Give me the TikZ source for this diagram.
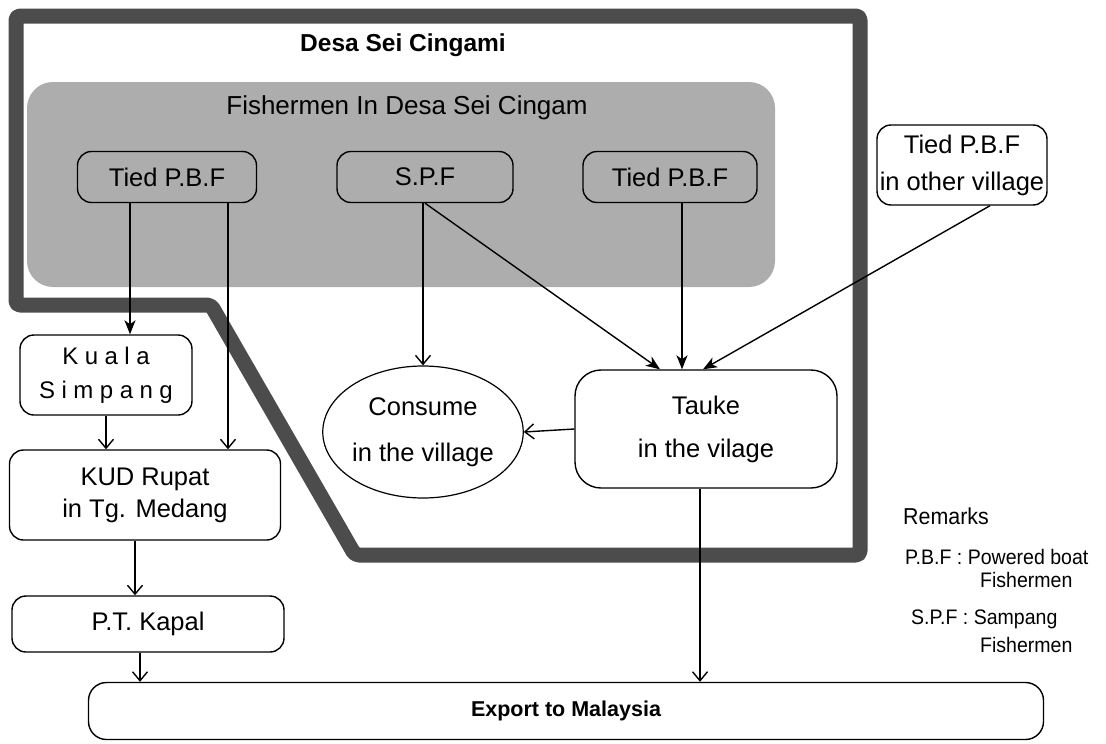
\documentclass[tikz,border=0pt]{standalone}
\usepackage{fontspec}
\setmainfont{Liberation Sans}
\newfontfamily\spacedfont{Liberation Sans}[LetterSpace=27]
\newfontfamily\narrowfont{Liberation Sans}[FakeStretch=0.93]
\usetikzlibrary{arrows.meta,shapes.geometric}
\begin{document}
\begin{tikzpicture}[x=1pt,y=-1pt,
  box/.style={draw=black, line width=1.4pt, rounded corners=14pt, inner sep=0pt, align=center,
    font=\fontsize{25.5}{36}\selectfont},
  oval/.style={draw=black, line width=1.2pt, ellipse, inner sep=0pt, align=center,
    font=\fontsize{25.5}{46}\selectfont},
  conn/.style={draw=black, line width=1.4pt},
  filledarr/.style={conn, -{Stealth[length=14pt,width=11pt,inset=4pt]}},
  openarr/.style={conn, -{Straight Barb[length=9pt,width=15pt,line width=1.4pt]}},
  remark/.style={anchor=west, inner sep=0pt, font=\fontsize{21}{22}\selectfont\narrowfont}
]
\path[use as bounding box] (0,0) rectangle (1106,744);

% thick village border
\draw[line width=15pt, draw=black!70, rounded corners=4pt, line join=round]
  (16,16) -- (860,16) -- (860,555) -- (355,555) -- (211,305) -- (16,305) -- cycle;

% shaded fishermen area
\fill[black!32, rounded corners=26pt] (27,82) rectangle (775,287);

% titles
\node[font=\fontsize{24.5}{28}\selectfont\bfseries, inner sep=0pt] (desa) at (403,45) {Desa Sei Cingami};
\node[font=\fontsize{26}{28}\selectfont, inner sep=0pt] (fish) at (407,108) {Fishermen In Desa Sei Cingam};

% fishermen groups
\node[box, minimum width=179pt, minimum height=51pt] (tied1) at (167,177) {Tied P.B.F};
\node[box, minimum width=176pt, minimum height=51pt] (spf) at (425,177) {S.P.F};
\node[box, minimum width=174pt, minimum height=51pt] (tied2) at (670,177) {Tied P.B.F};
\node[box, minimum width=170pt, minimum height=80pt, font=\fontsize{25.5}{37}\selectfont] (other) at (962,165) {Tied P.B.F\\in other village};

% left chain
\node[box, minimum width=172pt, minimum height=80pt, font=\fontsize{24}{34}\selectfont\spacedfont] (kuala) at (106,375) {Kuala\\Simpang};
\node[box, minimum width=271pt, minimum height=90pt, font=\fontsize{25.5}{32}\selectfont] (kud) at (145,495) {KUD Rupat\\in Tg. Medang};
\node[box, minimum width=272pt, minimum height=56pt] (kapal) at (148,624) {P.T. Kapal};

% village destinations
\node[oval, minimum width=176pt, minimum height=132pt] (consume) at (423,432) {Consume\\in the village};
\node[box, rounded corners=26pt, minimum width=262pt, minimum height=118pt, font=\fontsize{25.5}{43}\selectfont] (tauke) at (706,429) {Tauke\\in the vilage};

% export
\node[box, rounded corners=18pt, minimum width=955pt, minimum height=57pt, font=\fontsize{21.5}{24}\selectfont\bfseries] (export) at (566,711) {Export to Malaysia};

% remarks
\node[remark, font=\fontsize{23}{24}\selectfont\narrowfont] (rem) at (903,516) {Remarks};
\node[remark] (r1) at (905,557) {P.B.F : Powered boat};
\node[remark] (r1b) at (980,580) {Fishermen};
\node[remark] (r2) at (911,619) {S.P.F : Sampang};
\node[remark] (r2b) at (980,645) {Fishermen};

% connectors
\draw[filledarr] ([xshift=-37pt]tied1.south) -- ([xshift=-37pt]tied1.south |- kuala.north);
\draw[openarr] ([xshift=61pt]tied1.south) -- ([xshift=61pt]tied1.south |- kud.north);
\draw[openarr] (kuala.south) -- (kuala.south |- kud.north);
\draw[openarr] ([xshift=-10pt]kud.south) -- ([xshift=-10pt]kud.south |- kapal.north);
\draw[openarr] ([xshift=-8pt]kapal.south) -- ([xshift=-8pt]kapal.south |- export.north);

\draw[openarr] (spf.south -| consume.north) -- (consume.north);
\draw[filledarr] (spf.south) -- ([xshift=-46pt]tauke.north);
\draw[filledarr] ([xshift=12pt]tied2.south) -- ([xshift=12pt]tied2.south |- tauke.north);
\draw[filledarr] ([xshift=28pt]other.south) -- ([xshift=-3pt]tauke.north);

\draw[openarr] (tauke.west) -- (consume.east);
\draw[openarr] ([xshift=-6pt]tauke.south) -- ([xshift=-6pt]tauke.south |- export.north);
\end{tikzpicture}
\end{document}
